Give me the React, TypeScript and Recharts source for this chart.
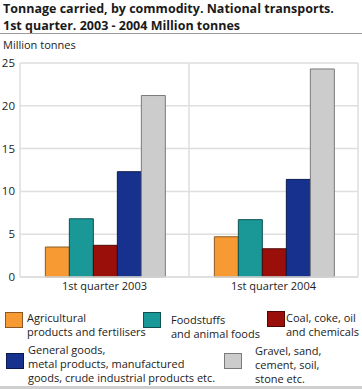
import React from "react";
import { BarChart, Bar, XAxis, YAxis, CartesianGrid } from "recharts";

const QUARTERS = ["1st quarter 2003", "1st quarter 2004"];
const AGRICULTURAL = [3.5, 4.7];
const FOODSTUFFS = [6.8, 6.7];
const COAL = [3.7, 3.3];
const GENERAL = [12.3, 11.4];
const GRAVEL = [21.2, 24.3];
const Y_TICKS = [0, 5, 10, 15, 20, 25];

const SERIES = [
  { key: "agri", label: "Agricultural products and fertilisers", fill: "#f79a33", stroke: "#8a5a22", values: AGRICULTURAL },
  { key: "food", label: "Foodstuffs and animal foods", fill: "#1a9898", stroke: "#0d5151", values: FOODSTUFFS },
  { key: "coal", label: "Coal, coke, oil and chemicals", fill: "#9a0f0a", stroke: "#4d0806", values: COAL },
  { key: "general", label: "General goods, metal products, manufactured goods, crude industrial products etc.", fill: "#17318e", stroke: "#0b1a4c", values: GENERAL },
  { key: "gravel", label: "Gravel, sand, cement, soil, stone etc.", fill: "#cccccc", stroke: "#7a7a7a", values: GRAVEL },
];

const data = QUARTERS.map((q, i) => {
  const row: Record<string, string | number> = { name: q };
  SERIES.forEach((s) => (row[s.key] = s.values[i]));
  return row;
});

const FONT = "'Open Sans', sans-serif";
const GRID = "#dedede";

// legend boxes placed like the original two-row layout
const LEGEND = [
  { box: [5, 312], text: [27, 311], lines: ["Agricultural", "products and fertilisers"] },
  { box: [143, 312], text: [171, 313], lines: ["Foodstuffs", "and animal foods"] },
  { box: [267, 311], text: [286, 311], lines: ["Coal, coke, oil", "and chemicals"] },
  { box: [6, 353], text: [28, 343], lines: ["General goods,", "metal products, manufactured", "goods, crude industrial products etc."] },
  { box: [224, 353], text: [255, 344], lines: ["Gravel, sand,", "cement, soil,", "stone etc."] },
];

export default function App() {
  return (
    <div style={{ position: "absolute", left: 0, top: 0, width: 362, height: 389, background: "#fff", fontFamily: FONT, color: "#222", overflow: "hidden" }}>
      <div style={{ position: "absolute", left: 3, top: 0, fontWeight: 700, fontSize: 12.5, lineHeight: "17px", color: "#1a1a1a" }}>
        Tonnage carried, by commodity. National transports.
        <br />
        1st quarter. 2003 - 2004 Million tonnes
      </div>
      <div style={{ position: "absolute", left: 0, top: 33, width: 362, height: 1, background: "#9a9a9a" }} />
      <div style={{ position: "absolute", left: 3, top: 37, fontSize: 11, lineHeight: "15px" }}>Million tonnes</div>

      <div style={{ position: "absolute", left: 0, top: 0 }}>
        <BarChart
          width={362}
          height={300}
          data={data}
          margin={{ top: 63, right: 4, bottom: 0, left: 0 }}
          barCategoryGap="15%"
          barGap={0}
        >
          <CartesianGrid
            stroke={GRID}
            strokeWidth={1.5}
            verticalCoordinatesGenerator={({ offset }: any) => [
              offset.left,
              offset.left + offset.width / 2,
              offset.left + offset.width,
            ]}
          />
          <XAxis
            dataKey="name"
            tickLine={false}
            axisLine={{ stroke: GRID, strokeWidth: 1.5 }}
            tickSize={0}
            tickMargin={5}
            height={23}
            tick={{ fontSize: 11, fill: "#222", fontFamily: FONT }}
          />
          <YAxis
            domain={[0, 25]}
            ticks={Y_TICKS}
            axisLine={false}
            tickLine={false}
            tickSize={0}
            tickMargin={5}
            width={20}
            tick={{ fontSize: 11.5, fill: "#222", fontFamily: FONT }}
          />
          {SERIES.map((s) => (
            <Bar key={s.key} dataKey={s.key} fill={s.fill} stroke={s.stroke} strokeWidth={1} isAnimationActive={false} />
          ))}
        </BarChart>
      </div>

      {SERIES.map((s, i) => {
        const l = LEGEND[i];
        return (
          <React.Fragment key={s.key}>
            <div
              style={{
                position: "absolute",
                left: l.box[0],
                top: l.box[1],
                width: 16,
                height: 14,
                background: s.fill,
                border: `1px solid ${s.stroke}`,
              }}
            />
            <div style={{ position: "absolute", left: l.text[0], top: l.text[1], fontSize: 11, lineHeight: "14px", whiteSpace: "nowrap" }}>
              {l.lines.map((t) => (
                <div key={t}>{t}</div>
              ))}
            </div>
          </React.Fragment>
        );
      })}
      <div style={{ position: "absolute", left: 0, top: 386, width: 362, height: 3, background: "#cfcfcf" }} />
    </div>
  );
}
